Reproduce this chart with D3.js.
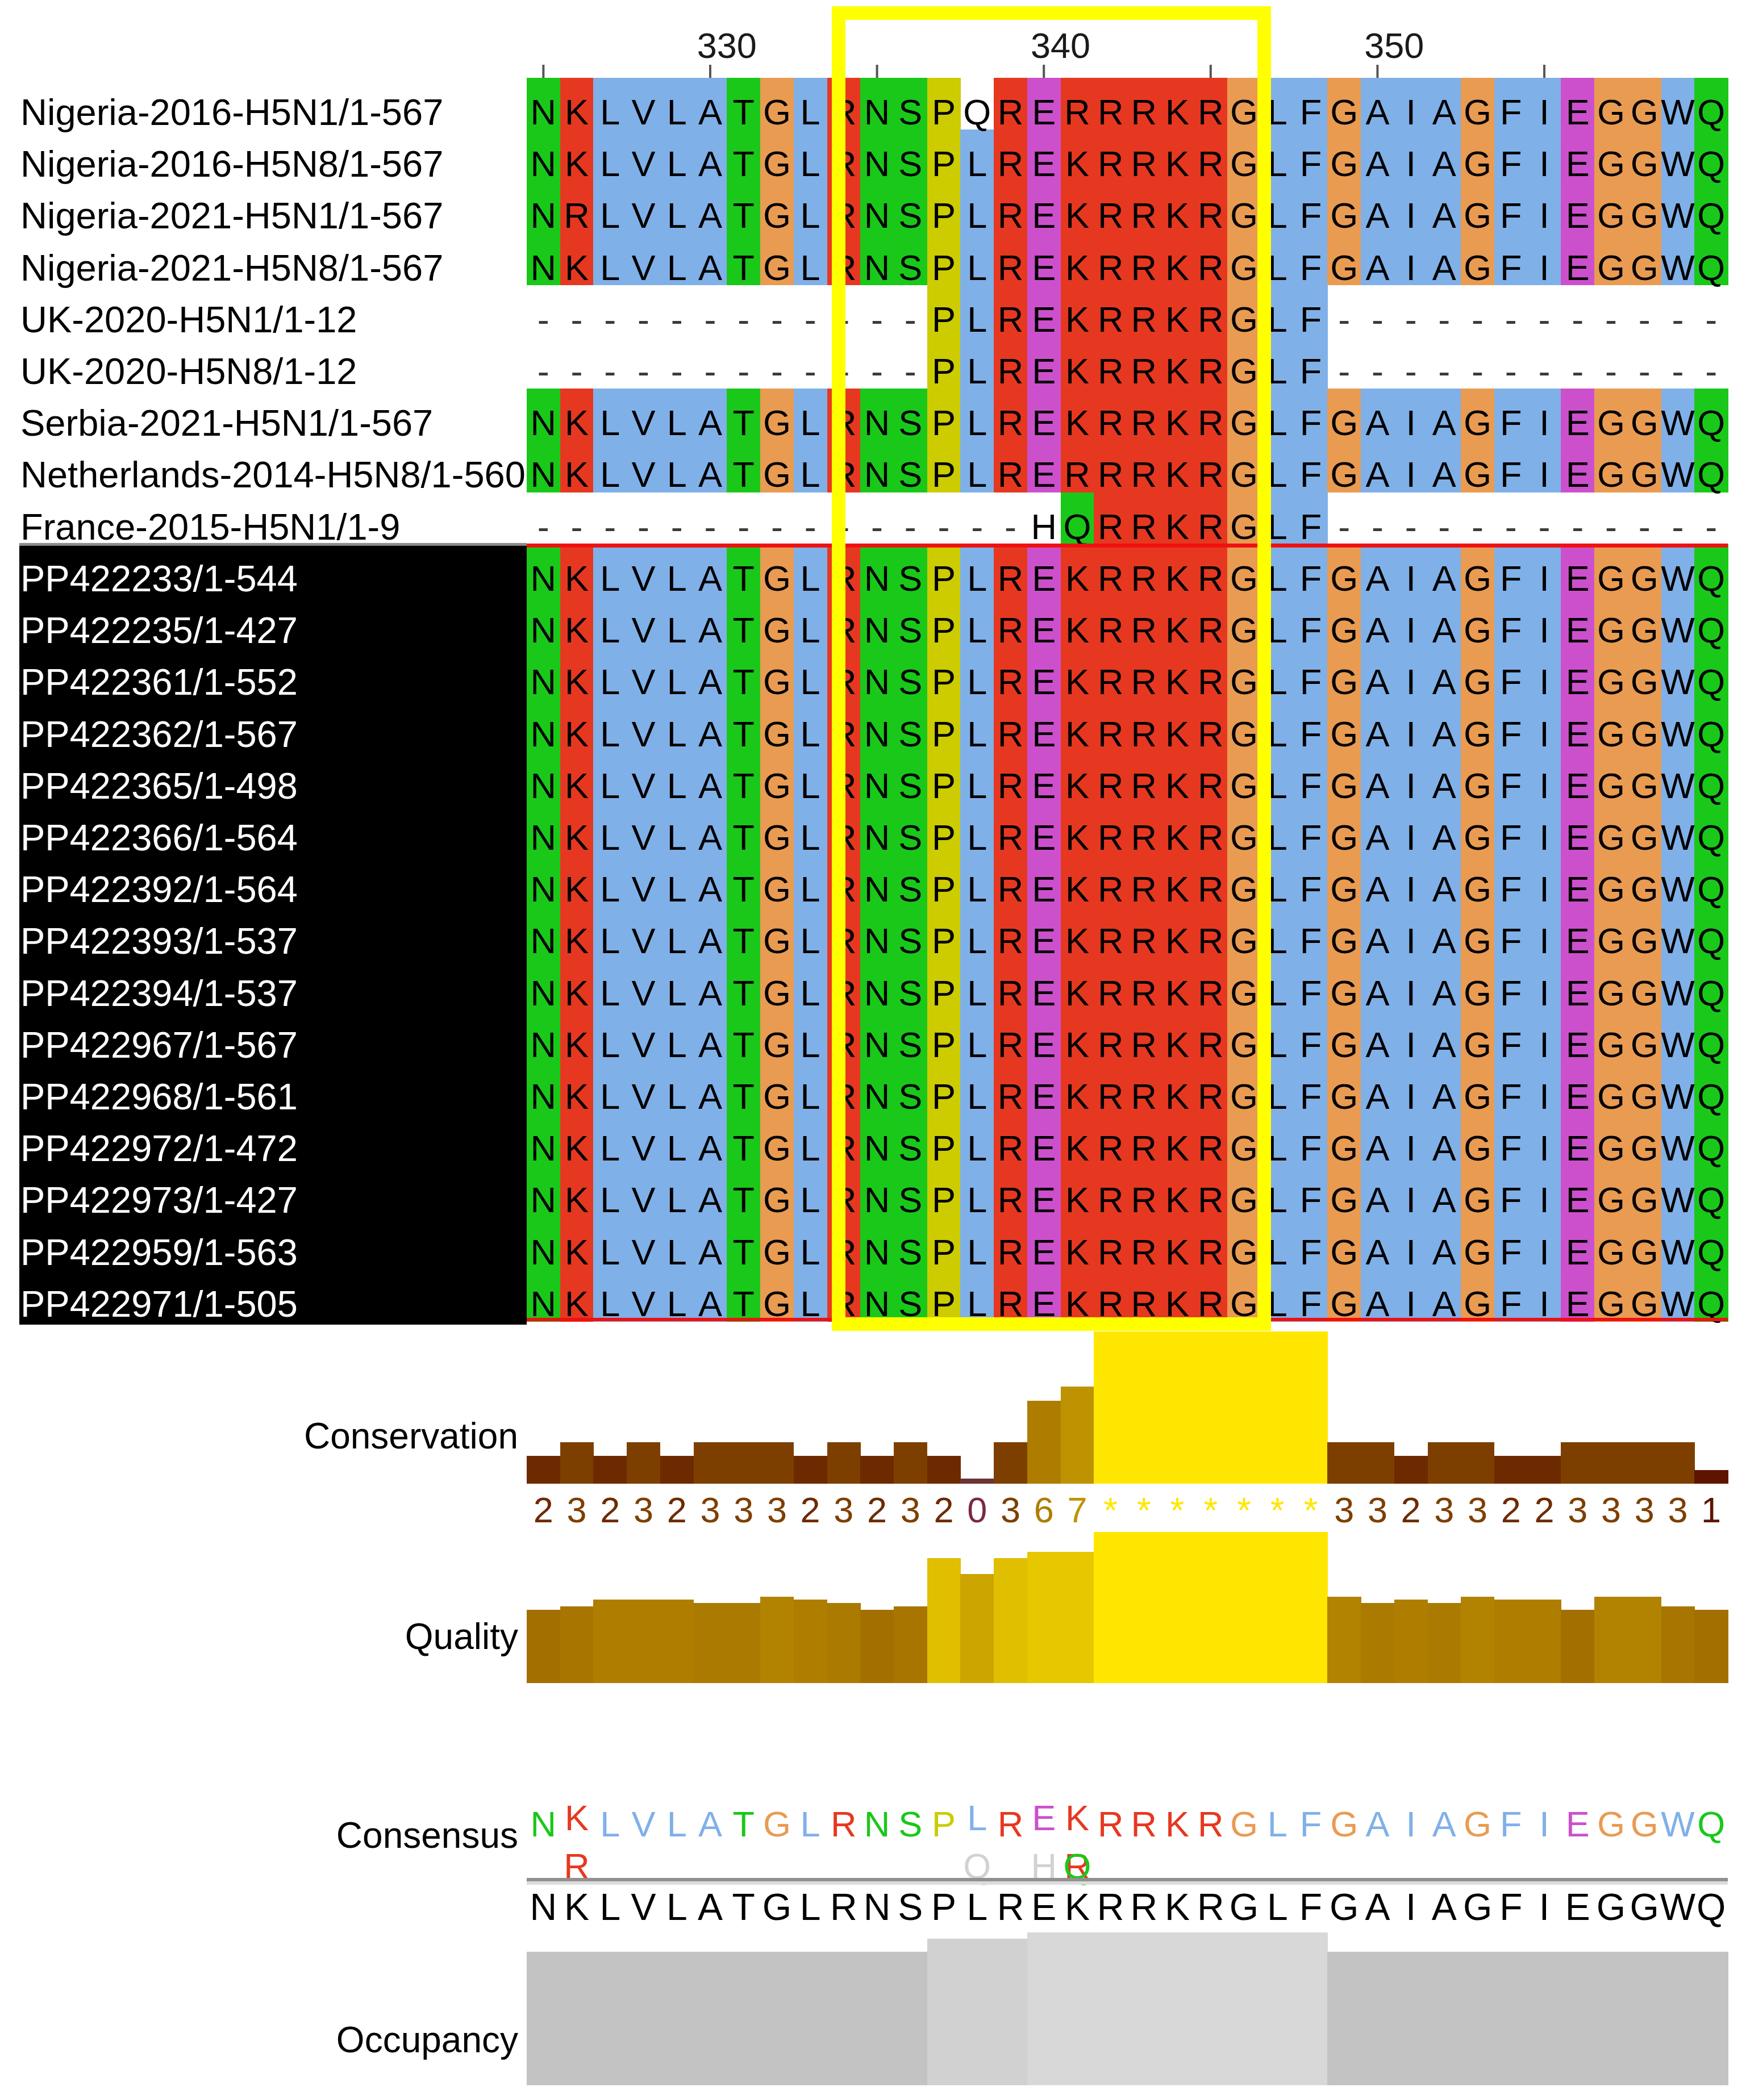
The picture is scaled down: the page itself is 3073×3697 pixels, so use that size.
<!DOCTYPE html>
<html>
<head>
<meta charset="utf-8">
<script src="https://cdn.jsdelivr.net/npm/d3@7"></script>
<style>
  body { margin: 0; background: #fff; }
  svg text { font-family: "Liberation Sans", Arial, sans-serif; }
</style>
</head>
<body>
<svg id="aln" width="3073" height="3697"></svg>
<script>
// alignment data
const seqNames = [
  "Nigeria-2016-H5N1/1-567", "Nigeria-2016-H5N8/1-567", "Nigeria-2021-H5N1/1-567",
  "Nigeria-2021-H5N8/1-567", "UK-2020-H5N1/1-12", "UK-2020-H5N8/1-12",
  "Serbia-2021-H5N1/1-567", "Netherlands-2014-H5N8/1-560", "France-2015-H5N1/1-9",
  "PP422233/1-544", "PP422235/1-427", "PP422361/1-552", "PP422362/1-567",
  "PP422365/1-498", "PP422366/1-564", "PP422392/1-564", "PP422393/1-537",
  "PP422394/1-537", "PP422967/1-567", "PP422968/1-561", "PP422972/1-472",
  "PP422973/1-427", "PP422959/1-563", "PP422971/1-505"
];
const sequences = [
  "NKLVLATGLRNSPQRERRRKRGLFGAIAGFIEGGWQ",
  "NKLVLATGLRNSPLREKRRKRGLFGAIAGFIEGGWQ",
  "NRLVLATGLRNSPLREKRRKRGLFGAIAGFIEGGWQ",
  "NKLVLATGLRNSPLREKRRKRGLFGAIAGFIEGGWQ",
  "------------PLREKRRKRGLF------------",
  "------------PLREKRRKRGLF------------",
  "NKLVLATGLRNSPLREKRRKRGLFGAIAGFIEGGWQ",
  "NKLVLATGLRNSPLRERRRKRGLFGAIAGFIEGGWQ",
  "---------------HQRRKRGLF------------",
  "NKLVLATGLRNSPLREKRRKRGLFGAIAGFIEGGWQ",
  "NKLVLATGLRNSPLREKRRKRGLFGAIAGFIEGGWQ",
  "NKLVLATGLRNSPLREKRRKRGLFGAIAGFIEGGWQ",
  "NKLVLATGLRNSPLREKRRKRGLFGAIAGFIEGGWQ",
  "NKLVLATGLRNSPLREKRRKRGLFGAIAGFIEGGWQ",
  "NKLVLATGLRNSPLREKRRKRGLFGAIAGFIEGGWQ",
  "NKLVLATGLRNSPLREKRRKRGLFGAIAGFIEGGWQ",
  "NKLVLATGLRNSPLREKRRKRGLFGAIAGFIEGGWQ",
  "NKLVLATGLRNSPLREKRRKRGLFGAIAGFIEGGWQ",
  "NKLVLATGLRNSPLREKRRKRGLFGAIAGFIEGGWQ",
  "NKLVLATGLRNSPLREKRRKRGLFGAIAGFIEGGWQ",
  "NKLVLATGLRNSPLREKRRKRGLFGAIAGFIEGGWQ",
  "NKLVLATGLRNSPLREKRRKRGLFGAIAGFIEGGWQ",
  "NKLVLATGLRNSPLREKRRKRGLFGAIAGFIEGGWQ",
  "NKLVLATGLRNSPLREKRRKRGLFGAIAGFIEGGWQ"
];
const selectedFrom = 9;          // first row of the selected (black) group
const startPos = 325;            // alignment position of first column
const rulerTicks = [325, 330, 335, 340, 345, 350, 355];
const rulerLabels = [330, 340, 350];

// annotation rows
const conservation = [2,3,2,3,2,3,3,3,2,3,2,3,2,0,3,6,7,11,11,11,11,11,11,11,3,3,2,3,3,2,2,3,3,3,3,1];
const quality = [48.6,50.9,55.1,55.1,55.1,53.0,53.0,57.1,55.1,53.0,48.6,50.9,82.7,72.1,82.7,86.8,86.8,
  100,100,100,100,100,100,100,57.1,53.0,55.1,53.0,57.1,55.1,55.1,48.6,57.1,57.1,50.9,48.6];
const occupancy = [21,21,21,21,21,21,21,21,21,21,21,21,23,23,23,24,24,24,24,24,24,24,24,24,
  21,21,21,21,21,21,21,21,21,21,21,21];
const annotationLabels = ["Conservation", "Quality", "Consensus", "Occupancy"];

const clustal = {
  blue: "#80b0e8", red: "#e63820", green: "#1ac81a", magenta: "#cc50cc",
  orange: "#e99b52", yellow: "#cccc00", cyan: "#15a4a4"
};

const svg = d3.select("#aln");
const nCols = sequences[0].length;

const x = d3.scaleBand().domain(d3.range(nCols)).range([927, 3041]);
const y = d3.scaleBand().domain(d3.range(sequences.length)).range([137, 2326]);
const bw = x.bandwidth();

// clustalx style colouring, thresholds on the residues in the column
function residueColour(res, col) {
  const column = sequences.map(s => s[col]).filter(c => c !== "-");
  const frac = set => column.filter(c => set.includes(c)).length / column.length;
  const hydro = frac("WLVIMAFCHP");
  if (res === "G") return clustal.orange;
  if (res === "P") return clustal.yellow;
  if ("KR".includes(res)) return frac("KR") > 0.6 ? clustal.red : null;
  if ("ED".includes(res)) return frac("EDQ") > 0.5 ? clustal.magenta : null;
  if (res === "N") return frac("N") > 0.5 ? clustal.green : null;
  if (res === "Q") return (frac("KR") > 0.6 || frac("QE") > 0.5) ? clustal.green : null;
  if ("ST".includes(res)) return (frac("ST") > 0.5 || hydro > 0.6) ? clustal.green : null;
  if ("AILMFWVC".includes(res)) return hydro > 0.6 ? clustal.blue : null;
  if ("HY".includes(res)) return frac("WLVIMAFCHPY") > 0.6 ? clustal.cyan : null;
  return null;
}

const cells = [];
sequences.forEach((s, r) => s.split("").forEach((c, i) => cells.push({r, i, c})));

// selected group background for names
svg.append("rect")
  .attr("x", 34).attr("y", y(selectedFrom))
  .attr("width", x(0) - 34).attr("height", 2332 - y(selectedFrom))
  .attr("fill", "#000");
svg.append("rect")
  .attr("x", 34).attr("y", y(selectedFrom) - 2)
  .attr("width", x(0) - 34).attr("height", 5)
  .attr("fill", "#8c8c8c");

// residue backgrounds
svg.append("g").attr("shape-rendering", "crispEdges")
  .selectAll("rect")
  .data(cells.filter(d => d.c !== "-" && residueColour(d.c, d.i)))
  .join("rect")
  .attr("x", d => x(d.i)).attr("y", d => y(d.r))
  .attr("width", bw + 0.5).attr("height", y.bandwidth() + 0.5)
  .attr("fill", d => residueColour(d.c, d.i));

// residue letters
svg.append("g")
  .selectAll("text")
  .data(cells)
  .join("text")
  .attr("x", d => x(d.i) + bw / 2)
  .attr("y", d => y(d.r) + 82)
  .attr("text-anchor", "middle")
  .attr("font-size", 63)
  .attr("fill", d => d.c === "-" ? "#3a3a3a" : "#000")
  .text(d => d.c);

// sequence names
svg.append("g")
  .selectAll("text")
  .data(seqNames)
  .join("text")
  .attr("x", 36)
  .attr("y", (d, i) => y(i) + 83)
  .attr("font-size", 65)
  .attr("fill", (d, i) => i >= selectedFrom ? "#fff" : "#000")
  .text(d => d);

// group outline (top and bottom)
svg.append("rect").attr("x", x(0)).attr("y", y(selectedFrom) - 1)
  .attr("width", 3041 - x(0)).attr("height", 7).attr("fill", "#f01010");
svg.append("rect").attr("x", x(0)).attr("y", 2320)
  .attr("width", 3041 - x(0)).attr("height", 6).attr("fill", "#f01010");

// ruler
const ruler = svg.append("g");
ruler.selectAll("line")
  .data(rulerTicks)
  .join("line")
  .attr("x1", p => x(p - startPos) + bw / 2).attr("x2", p => x(p - startPos) + bw / 2)
  .attr("y1", 114).attr("y2", 137)
  .attr("stroke", "#555").attr("stroke-width", 4);
ruler.selectAll("text")
  .data(rulerLabels)
  .join("text")
  .attr("x", p => x(p - startPos) + bw)
  .attr("y", 102)
  .attr("text-anchor", "middle")
  .attr("font-size", 63)
  .attr("fill", "#1a1a1a")
  .text(p => p);

// annotation labels
const labelY = [2550, 2903, 3253, 3613];
svg.append("g")
  .selectAll("text")
  .data(annotationLabels)
  .join("text")
  .attr("x", 912).attr("y", (d, i) => labelY[i])
  .attr("text-anchor", "end")
  .attr("font-size", 64)
  .attr("fill", "#000")
  .text(d => d);

const heat = v => d3.rgb(255 * (0.3 + 0.7 * v), 255 * 0.9 * v, 0).formatHex();

// conservation histogram
const consY = d3.scaleLinear().domain([0, 11]).range([2612, 2344]);
svg.append("g").attr("shape-rendering", "crispEdges")
  .selectAll("rect")
  .data(conservation)
  .join("rect")
  .attr("x", (d, i) => x(i)).attr("width", bw + 0.5)
  .attr("y", d => Math.min(consY(d), consY(0) - 9))
  .attr("height", d => Math.max(consY(0) - consY(d), 9))
  .attr("fill", d => d === 0 ? "#6e3434" : heat(d / 11));
svg.append("g")
  .selectAll("text")
  .data(conservation)
  .join("text")
  .attr("x", (d, i) => x(i) + bw / 2)
  .attr("y", 2680)
  .attr("text-anchor", "middle")
  .attr("font-size", 63)
  .attr("fill", d => d === 11 ? "#ffe600" : (d === 0 ? "#7a2a40" : heat(d / 11)))
  .text(d => d === 11 ? "*" : d);

// quality histogram
const qualY = d3.scaleLinear().domain([0, 100]).range([2963, 2697]);
svg.append("g").attr("shape-rendering", "crispEdges")
  .selectAll("rect")
  .data(quality)
  .join("rect")
  .attr("x", (d, i) => x(i)).attr("width", bw + 0.5)
  .attr("y", d => qualY(d))
  .attr("height", d => qualY(0) - qualY(d))
  .attr("fill", d => heat(d / 100));

// consensus logo: top residue, minor residues below
const consensus = d3.range(nCols).map(i => {
  const counts = d3.rollups(sequences.map(s => s[i]).filter(c => c !== "-"), v => v.length, c => c)
    .sort((a, b) => b[1] - a[1]);
  return {i, top: counts[0][0], minor: counts.slice(1).map(c => c[0])};
});
const logo = svg.append("g");
logo.selectAll("text.top")
  .data(consensus)
  .join("text")
  .attr("class", "top")
  .attr("x", d => x(d.i) + bw / 2)
  .attr("y", d => d.minor.length ? 3222 : 3233)
  .attr("text-anchor", "middle")
  .attr("font-size", 63)
  .attr("fill", d => residueColour(d.top, d.i) || "#cfcfcf")
  .text(d => d.top);
logo.selectAll("text.minor")
  .data(consensus.flatMap(d => d.minor.map(m => ({i: d.i, c: m}))))
  .join("text")
  .attr("class", "minor")
  .attr("x", d => x(d.i) + bw / 2)
  .attr("y", 3307)
  .attr("text-anchor", "middle")
  .attr("font-size", 63)
  .attr("fill", d => residueColour(d.c, d.i) || "#d2d2d2")
  .text(d => d.c);

// separator line
svg.append("rect").attr("x", x(0)).attr("y", 3306)
  .attr("width", 3041 - x(0)).attr("height", 6).attr("fill", "#909090");
svg.append("rect").attr("x", x(0)).attr("y", 3312)
  .attr("width", 3041 - x(0)).attr("height", 6).attr("fill", "#dcdcdc");

// consensus sequence in plain text
svg.append("g")
  .selectAll("text")
  .data(consensus)
  .join("text")
  .attr("x", d => x(d.i) + bw / 2)
  .attr("y", 3380)
  .attr("text-anchor", "middle")
  .attr("font-size", 66)
  .attr("fill", "#000")
  .text(d => d.top);

// occupancy histogram
const occY = d3.scaleLinear().domain([0, sequences.length]).range([3671, 3402]);
const occColour = d3.scaleLinear().domain([0, sequences.length]).range(["#303030", "#d8d8d8"]);
svg.append("g").attr("shape-rendering", "crispEdges")
  .selectAll("rect")
  .data(occupancy)
  .join("rect")
  .attr("x", (d, i) => x(i)).attr("width", bw + 0.5)
  .attr("y", d => occY(d))
  .attr("height", d => occY(0) - occY(d))
  .attr("fill", d => occColour(d));

// highlight box around the cleavage site
svg.append("rect")
  .attr("x", 1476).attr("y", 23)
  .attr("width", 2225 - 1476).attr("height", 2331 - 23)
  .attr("fill", "none")
  .attr("stroke", "#ffff00")
  .attr("stroke-width", 24);
</script>
</body>
</html>
